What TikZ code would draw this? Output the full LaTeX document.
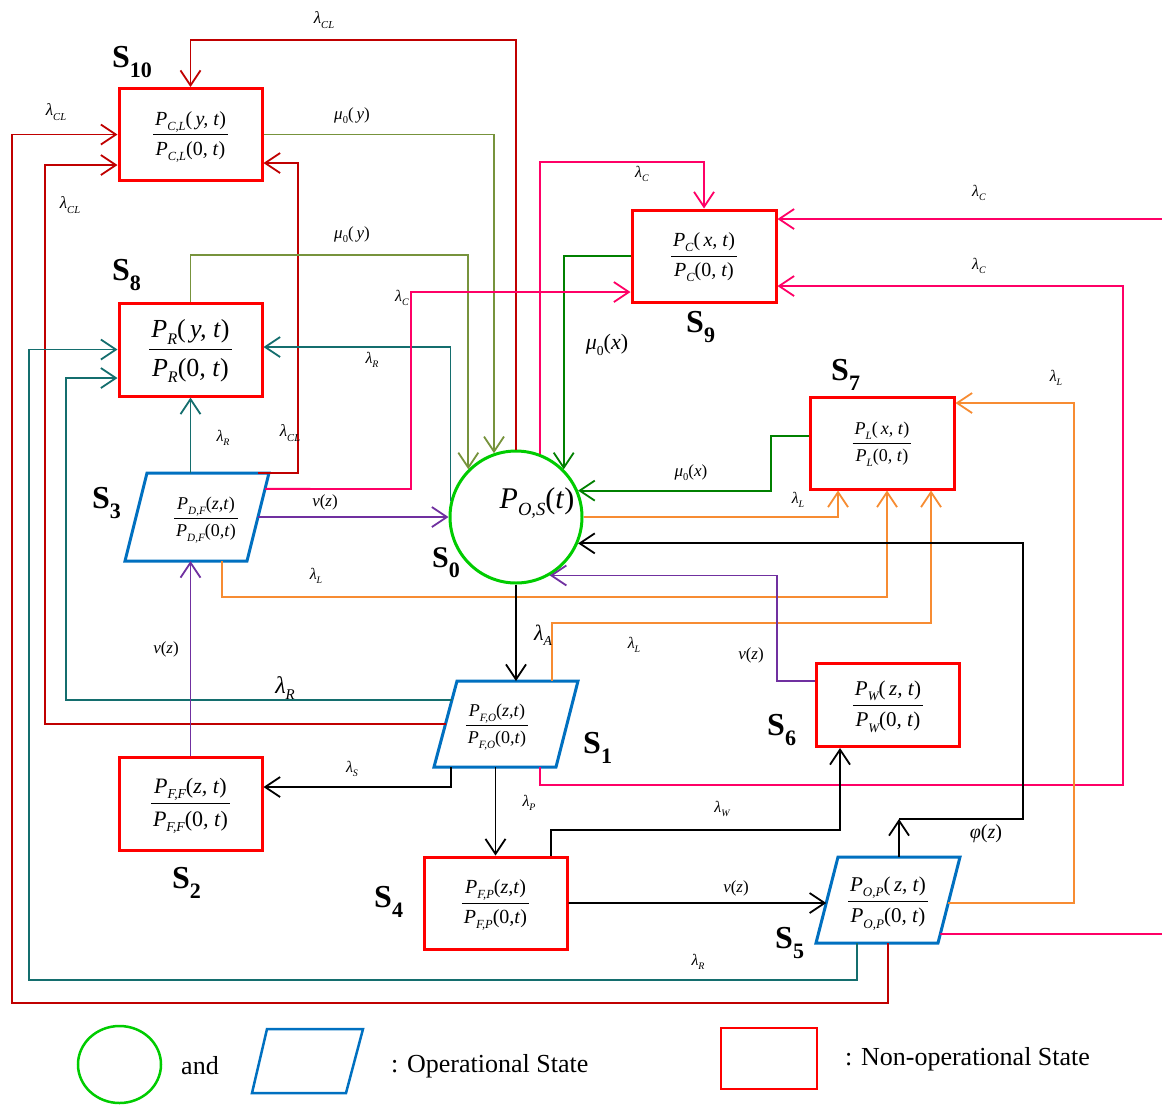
\documentclass[tikz,border=0pt]{standalone}
\usepackage{graphicx}
\usepackage{fontspec}
\setmainfont{Liberation Serif}
\usetikzlibrary{arrows.meta,calc,shapes.geometric}
\definecolor{boxred}{RGB}{255,0,0}
\definecolor{cgreen}{RGB}{0,204,0}
\definecolor{pblue}{RGB}{0,112,192}
\definecolor{dred}{RGB}{192,0,0}
\definecolor{tealc}{RGB}{20,110,110}
\definecolor{olivec}{RGB}{119,147,60}
\definecolor{dgreen}{RGB}{0,128,0}
\definecolor{pinkc}{RGB}{255,0,102}
\definecolor{orangec}{RGB}{247,140,50}
\definecolor{purplec}{RGB}{112,48,160}
\newcommand{\fsz}[1]{\fontsize{#1}{#1}\selectfont}
\newcommand{\stlab}[1]{\textbf{S}\raisebox{-10pt}{\fsz{22}\bfseries #1}}
\newcommand{\sbx}[1]{\raisebox{-0.25em}{\scalebox{0.62}{#1}}}
\newcommand{\pf}[2]{P\sbx{#1}\textup{(}#2\textup{)}}
\newcommand{\fr}[2]{{\renewcommand{\arraystretch}{1.45}\setlength{\arrayrulewidth}{1pt}%
  \begin{tabular}{@{\hspace{2pt}}c@{\hspace{2pt}}}#1\\\hline #2\end{tabular}}}
\tikzset{
  cn/.style={line width=1.8pt, -{Straight Barb[length=15pt,width=20pt]}},
  nbox/.style={draw=boxred, line width=3pt, inner sep=0pt, minimum width=143pt, minimum height=92pt},
  pgram/.style={draw=pblue, line width=3pt},
  lab/.style={inner sep=0pt},
  slab/.style={inner sep=0pt, anchor=base west, font=\fsz{32}},
}
\begin{document}
\begin{tikzpicture}[x=1pt,y=-1pt]
\useasboundingbox (0,0) rectangle (1162,1104);
\fill[white] (0,0) rectangle (1162,1104);

% ---- state nodes ----
\node[nbox, font=\fsz{20}\itshape] (s10) at (190.5,134.5) {\fr{\pf{C,L}{\,y, t}}{\pf{C,L}{\textup{0}, t}}};
\node[nbox, minimum height=93pt, font=\fsz{26}\itshape] (s8) at (190.5,349.5) {\fr{\pf{R}{\,y, t}}{\pf{R}{\textup{0}, t}}};
\node[nbox, minimum width=144pt, font=\fsz{20}\itshape] (s9) at (704,256) {\fr{\pf{C}{\,x, t}}{\pf{C}{\textup{0}, t}}};
\node[nbox, minimum width=144pt, font=\fsz{18}\itshape] (s7) at (882,443) {\fr{\pf{L}{\,x, t}}{\pf{L}{\textup{0}, t}}};
\node[nbox, minimum height=83pt, font=\fsz{21}\itshape] (s6) at (888,705) {\fr{\pf{W}{\,z, t}}{\pf{W}{\textup{0}, t}}};
\node[nbox, minimum height=93pt, font=\fsz{22}\itshape] (s2) at (190.5,803.5) {\fr{\pf{F,F}{z, t}}{\pf{F,F}{\textup{0}, t}}};
\node[nbox, font=\fsz{20}\itshape] (s4) at (495.5,903) {\fr{\pf{F,P}{z,t}}{\pf{F,P}{\textup{0},t}}};
\node[circle, draw=cgreen, line width=3pt, minimum size=132pt, inner sep=0pt] (s0) at (516,517) {};
\node[lab, font=\fsz{30}\itshape] (s0t) at (537,503) {\pf{O,S}{t}};

% parallelograms
\coordinate (s3tl) at (147,473); \coordinate (s3tr) at (269,473);
\coordinate (s3br) at (247,561); \coordinate (s3bl) at (125,561);
\draw[pgram] (s3tl) -- (s3tr) -- (s3br) -- (s3bl) -- cycle;
\node[lab, font=\fsz{18}\itshape] (s3) at (206,518) {\fr{\pf{D,F}{z,t}}{\pf{D,F}{\textup{0},t}}};

\coordinate (s1tl) at (457,681); \coordinate (s1tr) at (578,681);
\coordinate (s1br) at (556,767); \coordinate (s1bl) at (434,767);
\draw[pgram] (s1tl) -- (s1tr) -- (s1br) -- (s1bl) -- cycle;
\node[lab, font=\fsz{18}\itshape] (s1) at (497,725) {\fr{\pf{F,O}{z,t}}{\pf{F,O}{\textup{0},t}}};

\coordinate (s5tl) at (838,857); \coordinate (s5tr) at (960,857);
\coordinate (s5br) at (938,943); \coordinate (s5bl) at (816,943);
\draw[pgram] (s5tl) -- (s5tr) -- (s5br) -- (s5bl) -- cycle;
\node[lab, font=\fsz{21}\itshape] (s5) at (888,901) {\fr{\pf{O,P}{\,z, t}}{\pf{O,P}{\textup{0}, t}}};

% edge points of the parallelograms
\coordinate (s3t1) at ($(s3tl)!0.91!(s3tr)$);
\coordinate (s3r1) at ($(s3tr)!0.18!(s3br)$);
\coordinate (s3r2) at ($(s3tr)!0.5!(s3br)$);
\coordinate (s3b1) at ($(s3bl)!0.795!(s3br)$);
\coordinate (s1l1) at ($(s1tl)!0.22!(s1bl)$);
\coordinate (s1l2) at ($(s1tl)!0.5!(s1bl)$);
\coordinate (s1t1) at ($(s1tl)!0.785!(s1tr)$);
\coordinate (s1b1) at ($(s1bl)!0.14!(s1br)$);
\coordinate (s1b3) at ($(s1bl)!0.87!(s1br)$);
\coordinate (s5l1) at ($(s5tl)!0.535!(s5bl)$);
\coordinate (s5t1) at ($(s5tl)!0.5!(s5tr)$);
\coordinate (s5r1) at ($(s5tr)!0.535!(s5br)$);
\coordinate (s5r2) at ($(s5tr)!0.895!(s5br)$);
\coordinate (s5b1) at ($(s5bl)!0.336!(s5br)$);
\coordinate (s5b2) at ($(s5bl)!0.59!(s5br)$);

% ---- state labels ----
\node[slab] (ls10) at (112,67) {\stlab{10}};
\node[slab] (ls8) at (112,280) {\stlab{8}};
\node[slab] (ls9) at (686,332) {\stlab{9}};
\node[slab] (ls7) at (831,380) {\stlab{7}};
\node[slab] (ls3) at (92,508) {\stlab{3}};
\node[slab, font=\fsz{30}] (ls0) at (432,567) {\stlab{0}};
\node[slab] (ls1) at (583,753) {\stlab{1}};
\node[slab] (ls6) at (767,735) {\stlab{6}};
\node[slab] (ls2) at (172,888) {\stlab{2}};
\node[slab] (ls4) at (374,907) {\stlab{4}};
\node[slab] (ls5) at (775,948) {\stlab{5}};

% ---- connectors ----
% dark red: lambda_CL
\draw[cn, dred] (s0.north) -- (s0.north |- 0,40) -| (s10.north);
\draw[cn, dred] (s5b2) -- (s5b2 |- 0,1003) -- (12,1003) |- (s10.west);
\draw[cn, dred] (s1l2) -- (45,724) |- (s10.west |- 0,165);
\draw[cn, dred] (s3t1) -- (298,473) |- (s10.east |- 0,163);
% teal: lambda_R
\draw[cn, tealc] (s8.south |- s3tl) -- (s8.south);
\draw[cn, tealc] (s0.166) |- (s8.east |- 0,347);
\draw[cn, tealc] (s1l1) -- (66,700) |- (s8.west |- 0,378);
\draw[cn, tealc] (s5b1) -- (s5b1 |- 0,980) -- (29,980) |- (s8.west);
% olive: mu_0(y)
\draw[cn, olivec] (s10.east) -| (s0.109);
\draw[cn, olivec] (s8.north) -- (s8.north |- 0,255) -| (s0.135);
% dark green: mu_0(x)
\draw[cn, dgreen] (s9.west) -| (s0.45);
\draw[cn, dgreen] (s7.west |- 0,436) -- (771,436) |- (s0.23);
% pink: lambda_C
\draw[cn, pinkc] (s0.69) -- (s0.69 |- 0,162) -| (s9.north);
\draw[cn, pinkc] (s3r1) -- (411,489) |- (s9.west |- 0,292);
\draw[cn, pinkc] (s5r2) -- (1180,934) -- (1180,219) -- (s9.east |- 0,219);
\draw[cn, pinkc] (s1b3) -- (s1b3 |- 0,785) -- (1123,785) |- (s9.east |- 0,286);
% orange: lambda_L
\draw[cn, orangec] (s0.east) -| ([xshift=-44pt]s7.south);
\draw[cn, orangec] (s3b1) -- (s3b1 |- 0,597) -| ([xshift=5pt]s7.south);
\draw[cn, orangec] (s1t1) -- (s1t1 |- 0,623) -| ([xshift=49pt]s7.south);
\draw[cn, orangec] (s5r1) -- (1074,903) |- (s7.east |- 0,403);
% purple: nu(z)
\draw[cn, purplec] (s3r2) -- (s0.west);
\draw[cn, purplec] (s2.north) -- (s2.north |- s3bl);
\draw[cn, purplec] (s6.west |- 0,681) -- (777,681) |- (s0.-60);
% black
\draw[cn] (s0.south) -- (s0.south |- s1tl);
\draw[cn] (s1b1) |- (s2.east |- 0,787);
\draw[cn] (s4.north |- s1bl) -- (s4.north);
\draw[cn] ([xshift=55.5pt]s4.north) -- ([xshift=55.5pt]s4.north |- 0,830) -| ([xshift=-48pt]s6.south);
\draw[cn] (s4.east) -- (s5l1);
\draw[cn] (s5t1) -- (s5t1 |- 0,819);
\draw[cn] (s5t1 |- 0,819) -- (1023,819) |- (s0.-23);

% ---- connector labels ----
\node[lab, font=\fsz{17}\itshape] (t1) at (324,20) {λ\sbx{CL}};
\node[lab, font=\fsz{17}\itshape] (t2) at (56,112) {λ\sbx{CL}};
\node[lab, font=\fsz{17}\itshape] (t3) at (70,205) {λ\sbx{CL}};
\node[lab, font=\fsz{17}\itshape] (t4) at (290,433) {λ\sbx{CL}};
\node[lab, font=\fsz{17}\itshape] (t5) at (352,116) {μ\sbx{\upshape 0}\textup{(}\,y\textup{)}};
\node[lab, font=\fsz{17}\itshape] (t6) at (352,235) {μ\sbx{\upshape 0}\textup{(}\,y\textup{)}};
\node[lab, font=\fsz{16}\itshape] (t7) at (402,298) {λ\sbx{C}};
\node[lab, font=\fsz{16}\itshape] (t8) at (372,360) {λ\sbx{R}};
\node[lab, font=\fsz{16}\itshape] (t9) at (223,438) {λ\sbx{R}};
\node[lab, font=\fsz{16}\itshape] (t10) at (642,174) {λ\sbx{C}};
\node[lab, font=\fsz{16}\itshape] (t11) at (979,193) {λ\sbx{C}};
\node[lab, font=\fsz{16}\itshape] (t12) at (979,266) {λ\sbx{C}};
\node[lab, font=\fsz{22}\itshape] (t13) at (607,345) {μ\sbx{\upshape 0}\textup{(}x\textup{)}};
\node[lab, font=\fsz{17}\itshape] (t14) at (691,473) {μ\sbx{\upshape 0}\textup{(}x\textup{)}};
\node[lab, font=\fsz{16}\itshape] (t15) at (1056,378) {λ\sbx{L}};
\node[lab, font=\fsz{16}\itshape] (t16) at (798,500) {λ\sbx{L}};
\node[lab, font=\fsz{17}\itshape] (t17) at (325,502) {ν\textup{(}z\textup{)}};
\node[lab, font=\fsz{16}\itshape] (t18) at (316,576) {λ\sbx{L}};
\node[lab, font=\fsz{17}\itshape] (t19) at (166,649) {ν\textup{(}z\textup{)}};
\node[lab, font=\fsz{22}\itshape] (t20) at (543,635) {λ\sbx{A}};
\node[lab, font=\fsz{16}\itshape] (t21) at (634,645) {λ\sbx{L}};
\node[lab, font=\fsz{17}\itshape] (t22) at (751,655) {ν\textup{(}z\textup{)}};
\node[lab, font=\fsz{24}\itshape] (t23) at (285,688) {λ\sbx{R}};
\node[lab, font=\fsz{16}\itshape] (t24) at (352,769) {λ\sbx{S}};
\node[lab, font=\fsz{16}\itshape] (t25) at (529,803) {λ\sbx{P}};
\node[lab, font=\fsz{16}\itshape] (t26) at (722,809) {λ\sbx{W}};
\node[lab, font=\fsz{20}\itshape] (t27) at (986,834) {φ\textup{(}z\textup{)}};
\node[lab, font=\fsz{17}\itshape] (t28) at (736,888) {ν\textup{(}z\textup{)}};
\node[lab, font=\fsz{16}\itshape] (t29) at (698,962) {λ\sbx{R}};

% ---- legend ----
\node[draw=cgreen, line width=2.5pt, ellipse, minimum width=83pt, minimum height=77pt, inner sep=0pt] (lgc) at (119.5,1064.5) {};
\node[lab, font=\fsz{26}] (lgand) at (200,1066) {and};
\coordinate (lgtl) at (267,1029); \coordinate (lgtr) at (363,1029);
\coordinate (lgbr) at (346,1093); \coordinate (lgbl) at (252,1093);
\draw[draw=pblue, line width=2.5pt] (lgtl) -- (lgtr) -- (lgbr) -- (lgbl) -- cycle;
\node[lab, font=\fsz{26}, anchor=west] (lgop) at (391,1066) {: Operational State};
\node[draw=boxred, line width=2.5pt, minimum width=96pt, minimum height=61pt, inner sep=0pt] (lgr) at (769,1058.5) {};
\node[lab, font=\fsz{26}, anchor=west] (lgnop) at (845,1059) {: Non-operational State};
\end{tikzpicture}
\end{document}
